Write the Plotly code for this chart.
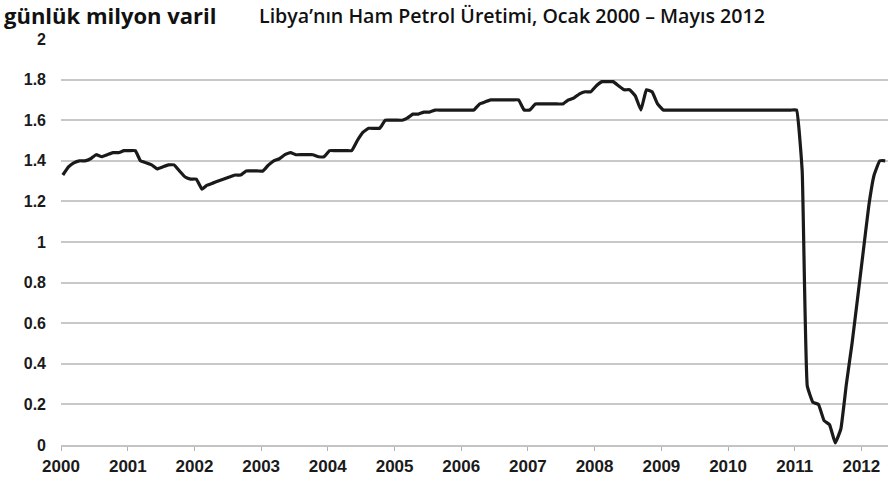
import plotly.graph_objects as go
import pandas as pd

n_months = 149

production = [
    # 2000
    1.33, 1.37, 1.39, 1.40, 1.40, 1.41, 1.43, 1.42, 1.43, 1.44, 1.44, 1.45,
    # 2001
    1.45, 1.45, 1.40, 1.39, 1.38, 1.36, 1.37, 1.38, 1.38, 1.35, 1.32, 1.31,
    # 2002
    1.31, 1.26, 1.28, 1.29, 1.30, 1.31, 1.32, 1.33, 1.33, 1.35, 1.35, 1.35,
    # 2003
    1.35, 1.38, 1.40, 1.41, 1.43, 1.44, 1.43, 1.43, 1.43, 1.43, 1.42, 1.42,
    # 2004
    1.45, 1.45, 1.45, 1.45, 1.45, 1.50, 1.54, 1.56, 1.56, 1.56, 1.60, 1.60,
    # 2005
    1.60, 1.60, 1.61, 1.63, 1.63, 1.64, 1.64, 1.65, 1.65, 1.65, 1.65, 1.65,
    # 2006
    1.65, 1.65, 1.65, 1.68, 1.69, 1.70, 1.70, 1.70, 1.70, 1.70, 1.70, 1.65,
    # 2007
    1.65, 1.68, 1.68, 1.68, 1.68, 1.68, 1.68, 1.70, 1.71, 1.73, 1.74, 1.74,
    # 2008
    1.77, 1.79, 1.79, 1.79, 1.77, 1.75, 1.75, 1.72, 1.65, 1.75, 1.74, 1.68,
    # 2009
    1.65, 1.65, 1.65, 1.65, 1.65, 1.65, 1.65, 1.65, 1.65, 1.65, 1.65, 1.65,
    # 2010
    1.65, 1.65, 1.65, 1.65, 1.65, 1.65, 1.65, 1.65, 1.65, 1.65, 1.65, 1.65,
    # 2011
    1.65, 1.35, 0.29, 0.21, 0.20, 0.12, 0.10, 0.01, 0.08, 0.30, 0.50, 0.72,
    # 2012
    0.95, 1.18, 1.33, 1.40, 1.40,
]

years = list(range(2000, 2013))
year_labels = [str(y) for y in years]
y_ticks = [0, 0.2, 0.4, 0.6, 0.8, 1, 1.2, 1.4, 1.6, 1.8, 2]
y_tick_labels = ["0", "0.2", "0.4", "0.6", "0.8", "1", "1.2", "1.4", "1.6", "1.8", "2"]

unit_title = "günlük milyon varil"
chart_title = "Libya’nın Ham Petrol Üretimi, Ocak 2000 – Mayıs 2012"

dates = pd.date_range(start="2000-01-01", periods=n_months, freq="MS") + pd.Timedelta(days=10)

fig = go.Figure()
fig.add_trace(go.Scatter(
    x=dates, y=production, mode="lines",
    line=dict(color="#1a1a1a", width=3.2, shape="spline", smoothing=0.3),
    hoverinfo="x+y",
))

tick_dates = [f"{y}-01-01" for y in years]

fig.update_layout(
    width=888, height=481,
    margin=dict(l=61, r=0, t=39, b=36),
    paper_bgcolor="white", plot_bgcolor="white",
    showlegend=False,
    font=dict(family="Liberation Sans, Arial, sans-serif", color="#1a1a1a"),
    xaxis=dict(
        type="date",
        range=["2000-01-01", "2012-05-26"],
        tickvals=tick_dates, ticktext=year_labels,
        showgrid=False, zeroline=False,
        showline=True, linecolor="#c4c4c4", linewidth=2,
        ticks="outside", ticklen=4, tickcolor="#b0b0b0", tickwidth=1,
        tickfont=dict(size=17, family="Liberation Sans, Arial", color="#1a1a1a", weight="bold"),
        ticklabelstandoff=1,
    ),
    yaxis=dict(
        range=[0, 2],
        tickvals=y_ticks, ticktext=y_tick_labels,
        showgrid=True, gridcolor="#c8c8c8", gridwidth=2,
        zeroline=False, showline=False, ticks="",
        tickfont=dict(size=16, family="Liberation Sans, Arial", color="#1a1a1a", weight="bold"),
        ticklabelstandoff=14,
    ),
    annotations=[
        dict(text=unit_title, xref="paper", yref="paper",
             x=(2 - 61) / 827, y=1 + (39 - 15) / 406, xanchor="left", yanchor="middle",
             showarrow=False,
             font=dict(family="Open Sans", size=22, color="#111111", weight="bold")),
        dict(text=chart_title, xref="paper", yref="paper",
             x=(257 - 61) / 827, y=1 + (39 - 16) / 406, xanchor="left", yanchor="middle",
             showarrow=False,
             font=dict(family="Open Sans", size=19.6, color="#111111", weight=600)),
    ],
)

fig.write_html("out.html", config={"displayModeBar": False},
               post_script="document.body.style.margin='0';")
